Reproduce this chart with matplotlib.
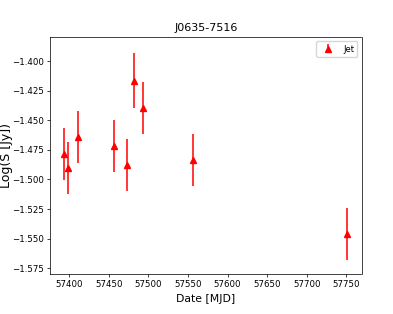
import matplotlib
matplotlib.use("Agg")
import matplotlib.pyplot as plt

# light curve of the jet component
mjd = [57394.1, 57399.1, 57411.0, 57456.7, 57472.7, 57481.5, 57493.3, 57555.9, 57750.8]
logS = [-1.4783, -1.4902, -1.4640, -1.4719, -1.4878, -1.4165, -1.4397, -1.4837, -1.5459]
err = [0.022, 0.022, 0.022, 0.022, 0.022, 0.023, 0.022, 0.022, 0.022]
xticks = [57400, 57450, 57500, 57550, 57600, 57650, 57700, 57750]
yticks = [-1.575, -1.550, -1.525, -1.500, -1.475, -1.450, -1.425, -1.400]

s = 0.654  # original was drawn at ~65 dpi
plt.rcParams.update({
    "font.family": "DejaVu Sans",
    "axes.linewidth": 0.8 * s,
    "xtick.major.width": 0.8 * s, "ytick.major.width": 0.8 * s,
    "xtick.major.size": 3.5 * s, "ytick.major.size": 3.5 * s,
    "xtick.major.pad": 3.5 * s, "ytick.major.pad": 3.5 * s,
})

fig = plt.figure(figsize=(3.93, 3.14), dpi=100)
ax = fig.add_axes([50 / 393, 1 - 274 / 314, 311.5 / 393, 237 / 314])

ax.errorbar(mjd, logS, yerr=err, fmt="^", color="red", ms=4.6, elinewidth=1.1,
            capsize=0, label="Jet")
ax.set_xlim(57376, 57769)
ax.set_ylim(-1.5798, -1.3797)
ax.set_xticks(xticks)
ax.set_yticks(yticks)
ax.set_yticklabels([f"{v:.3f}".replace("-", "\u2212") for v in yticks])
ax.tick_params(labelsize=6.2)
ax.set_title("J0635-7516", fontsize=8, pad=4)
ax.set_xlabel("Date [MJD]", fontsize=7.8, labelpad=3)
ax.set_ylabel("Log(S [Jy])", fontsize=9)
ax.yaxis.set_label_coords(-0.12, 0.5)
ax.legend(loc="upper right", fontsize=6, frameon=True, borderpad=0.4,
          handlelength=2, framealpha=0.8)

fig.savefig("out.png", dpi=100)
